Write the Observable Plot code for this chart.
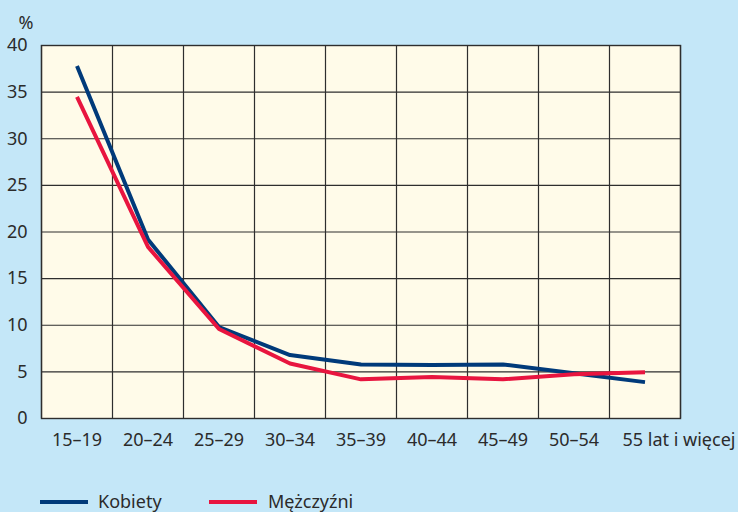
<!DOCTYPE html>
<html><head><meta charset="utf-8">
<script src="https://cdn.jsdelivr.net/npm/d3@7"></script>
<script src="https://cdn.jsdelivr.net/npm/@observablehq/plot@0.6"></script>
<style>
html,body{margin:0;padding:0;background:#c4e7f8;width:738px;height:512px;overflow:hidden;font-family:"Noto Sans",sans-serif;}
#chart{position:absolute;left:0;top:0;}
.sw{position:absolute;height:4px;width:48px;top:500px;}
.lt{position:absolute;top:492px;font-size:18px;line-height:18px;color:#2b2b2b;white-space:nowrap;}
</style></head><body>
<div id="chart"></div>
<div id="legend"></div>
<script>
const categories = ["15–19","20–24","25–29","30–34","35–39","40–44","45–49","50–54","55 lat i więcej"];
const kobiety = [37.8, 19.2, 9.8, 6.8, 5.8, 5.75, 5.8, 4.85, 3.9];
const mezczyzni = [34.5, 18.4, 9.6, 5.9, 4.2, 4.45, 4.2, 4.75, 4.95];
const yTicks = [0, 5, 10, 15, 20, 25, 30, 35, 40];
const seriesNames = ["Kobiety", "Mężczyźni"];
const seriesColors = ["#003a7a", "#e8153f"];
const yUnit = "%";

const rows = [];
categories.forEach((c, i) => {
  rows.push({i, cat: c, value: kobiety[i], series: seriesNames[0]});
  rows.push({i, cat: c, value: mezczyzni[i], series: seriesNames[1]});
});
const idx = categories.map((d, i) => i);
const bounds = d3.range(categories.length + 1).map(i => i - 0.5);
const gridCol = "#2e2e2e";

const plot = Plot.plot({
  width: 738, height: 460,
  marginLeft: 41, marginRight: 58, marginTop: 45, marginBottom: 42,
  style: {background: "transparent", fontFamily: "Noto Sans", fontSize: "18px", color: "#2b2b2b"},
  x: {domain: [-0.5, categories.length - 0.5], label: null},
  y: {domain: [0, 40], label: null},
  color: {domain: seriesNames, range: seriesColors},
  marks: [
    Plot.frame({fill: "#fffbe9"}),
    Plot.ruleX(bounds, {stroke: gridCol, strokeWidth: 1.2}),
    Plot.ruleY(yTicks, {stroke: gridCol, strokeWidth: 1.2}),
    Plot.line(rows, {x: "i", y: "value", z: "series", stroke: "series", strokeWidth: 4, strokeLinejoin: "round", strokeLinecap: "butt"}),
    Plot.frame({stroke: gridCol, strokeWidth: 1.4}),
    Plot.axisX(idx.slice(0, -1), {tickSize: 0, tickPadding: 15, tickFormat: i => categories[i], label: null, fontSize: 18}),
    Plot.axisX(idx.slice(-1), {tickSize: 0, tickPadding: 15, tickFormat: i => categories[i], label: null, fontSize: 18, dx: 34}),
    Plot.axisY(yTicks, {tickSize: 0, tickPadding: 14, label: null, fontSize: 18}),
    Plot.text([yUnit], {frameAnchor: "top-left", dx: -23, dy: -29, fontSize: 18, fill: "#2b2b2b"})
  ]
});
document.getElementById("chart").appendChild(plot);

const legend = document.getElementById("legend");
const swX = [40, 209], txX = [98, 268];
seriesNames.forEach((n, k) => {
  const s = document.createElement("div");
  s.className = "sw"; s.style.left = swX[k] + "px"; s.style.background = seriesColors[k];
  legend.appendChild(s);
  const t = document.createElement("div");
  t.className = "lt"; t.style.left = txX[k] + "px"; t.textContent = n;
  legend.appendChild(t);
});
</script>
</body></html>
